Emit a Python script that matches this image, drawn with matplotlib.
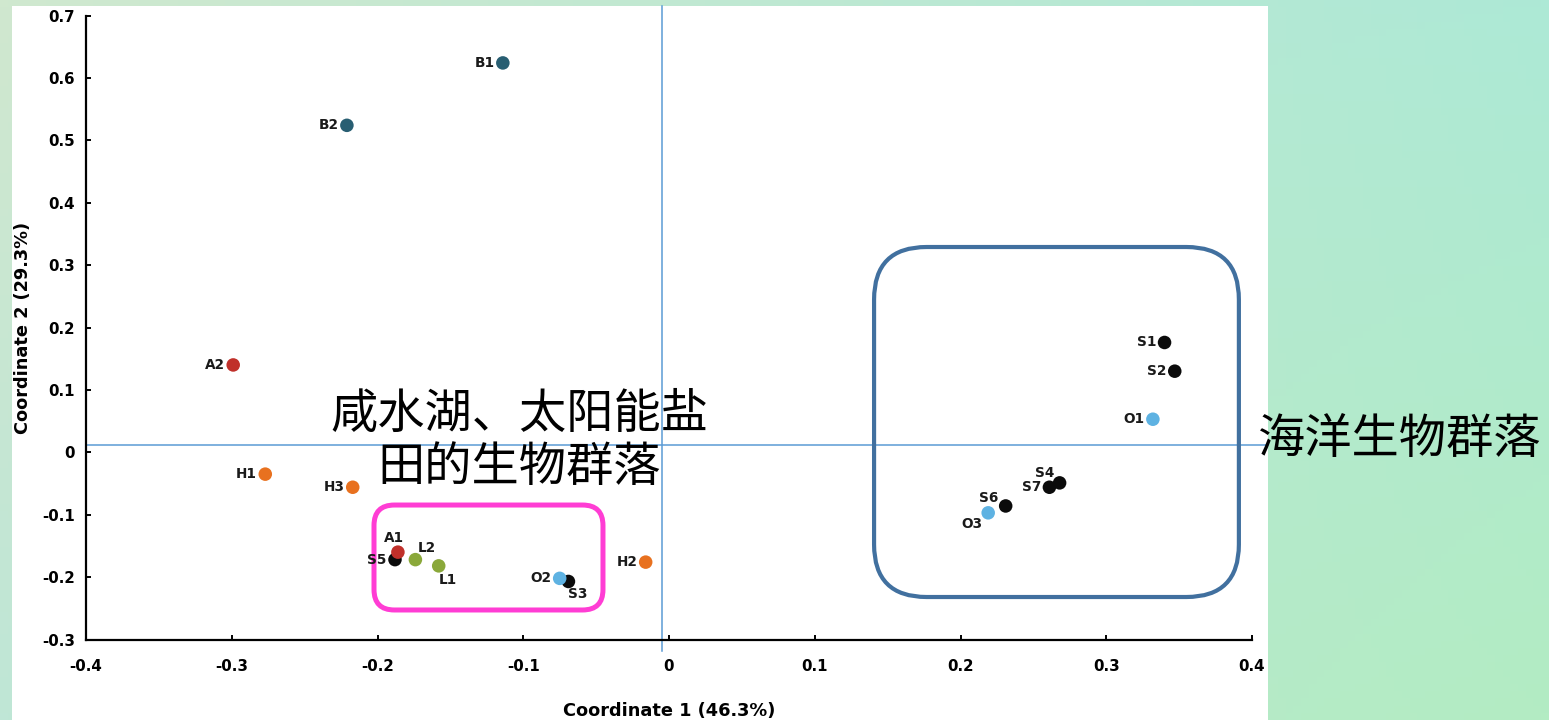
import numpy as np
import matplotlib
matplotlib.use("Agg")
import matplotlib.pyplot as plt
from matplotlib.patches import FancyBboxPatch, Rectangle
from matplotlib.colors import to_rgb

plt.rcParams["font.family"] = ["DejaVu Sans"]

# PCoA sample scores
samples = ["B1", "B2", "A2", "H1", "H3", "H2",
           "A1", "L2", "L1", "O2", "O1", "O3",
           "S5", "S3", "S1", "S2", "S4", "S7", "S6"]
coord1 = [-0.114, -0.221, -0.299, -0.277, -0.217, -0.016,
          -0.186, -0.174, -0.158, -0.075, 0.332, 0.219,
          -0.188, -0.069, 0.340, 0.347, 0.268, 0.261, 0.231]
coord2 = [0.624, 0.524, 0.140, -0.035, -0.056, -0.176,
          -0.160, -0.172, -0.182, -0.202, 0.053, -0.097,
          -0.172, -0.207, 0.176, 0.130, -0.049, -0.056, -0.086]

group_colors = {"B": "#285e72", "A": "#c0302a", "H": "#e8711f",
                "L": "#8aa83a", "O": "#5eb2e2", "S": "#0b0b0b"}

x_label = "Coordinate 1 (46.3%)"
y_label = "Coordinate 2 (29.3%)"
x_ticks = [-0.4, -0.3, -0.2, -0.1, 0, 0.1, 0.2, 0.3, 0.4]
y_ticks = [-0.3, -0.2, -0.1, 0, 0.1, 0.2, 0.3, 0.4, 0.5, 0.6, 0.7]

saline_lines = ["咸水湖、太阳能盐", "田的生物群落"]
marine_text = "海洋生物群落"

# label offsets in points (dx, dy, ha, va)
label_pos = {
    "A1": (-3, 5, "center", "bottom"),
    "L2": (2, 3, "left", "bottom"),
    "L1": (0, -5, "left", "top"),
    "S3": (0, -4, "left", "top"),
    "S4": (-4, 2, "right", "bottom"),
    "S6": (-5, 1, "right", "bottom"),
    "O3": (-4, -3, "right", "top"),
}

fig = plt.figure(figsize=(15.49, 7.2), dpi=100)

# slide background
bg = fig.add_axes([0, 0, 1, 1], zorder=-10)
corners = np.array([[to_rgb("#d0e8cf"), to_rgb("#ade9d6")],
                    [to_rgb("#bfe6d6"), to_rgb("#b3ecc3")]])
u = np.linspace(0, 1, 200)[None, :, None]
v = np.linspace(0, 1, 100)[:, None, None]
grad = ((1 - v) * ((1 - u) * corners[0, 0] + u * corners[0, 1])
        + v * ((1 - u) * corners[1, 0] + u * corners[1, 1]))
bg.imshow(grad, aspect="auto", extent=[0, 1, 0, 1], origin="upper")
bg.add_patch(Rectangle((12 / 1549, 0), (1268 - 12) / 1549, (720 - 6) / 720,
                       facecolor="white", edgecolor="none"))
bg.set_xlim(0, 1)
bg.set_ylim(0, 1)
bg.axis("off")

ax = fig.add_axes([86 / 1549, (720 - 639.5) / 720, 1166 / 1549, 624 / 720])
ax.patch.set_alpha(0)
ax.set_xlim(-0.4, 0.4)
ax.set_ylim(-0.3, 0.7)

# crosshair through the origin
ax.plot([-0.005, -0.005], [-0.318, 0.716], color="#5b9bd5", lw=1.1,
        clip_on=False, zorder=1)
ax.plot([-0.4, 0.411], [0.0117, 0.0117], color="#5b9bd5", lw=1.1,
        clip_on=False, zorder=1)

# S samples underneath the rest
order = sorted(range(len(samples)), key=lambda i: samples[i][0] != "S")
for i in order:
    name = samples[i]
    ax.scatter(coord1[i], coord2[i], s=95, color=group_colors[name[0]],
               edgecolors="none", zorder=3)
for i, name in enumerate(samples):
    dx, dy, ha, va = label_pos.get(name, (-6, 0, "right", "center"))
    ax.annotate(name, (coord1[i], coord2[i]), xytext=(dx, dy),
                textcoords="offset points", ha=ha, va=va,
                fontsize=9.8, fontweight="bold", color="#1a1a1a", zorder=4)

for side in ["top", "right"]:
    ax.spines[side].set_visible(False)
for side in ["left", "bottom"]:
    ax.spines[side].set_linewidth(1.6)
ax.set_xticks(x_ticks)
ax.set_yticks(y_ticks)
ax.set_xticklabels([f"{t:g}" for t in x_ticks])
ax.set_yticklabels([f"{t:g}" for t in y_ticks])
ax.tick_params(direction="in", length=3.5, width=1.4, labelsize=10.8, pad=14)
ax.tick_params(axis="y", pad=8)
for lab in ax.get_xticklabels() + ax.get_yticklabels():
    lab.set_fontweight("bold")
ax.set_xlabel(x_label, fontsize=12.8, fontweight="bold", labelpad=20)
ax.set_ylabel(y_label, fontsize=12.8, fontweight="bold", labelpad=7)

# rounded group boxes, corner radius kept round despite unequal scales
w_px = ax.get_position().width * fig.get_figwidth() * fig.dpi
h_px = ax.get_position().height * fig.get_figheight() * fig.dpi
aspect = (1.0 / h_px) / (0.8 / w_px)
ax.add_patch(FancyBboxPatch((-0.2024, -0.2527), 0.1571, 0.1682,
                            boxstyle="round,pad=0,rounding_size=0.014",
                            mutation_aspect=aspect, facecolor="none",
                            edgecolor="#ff3dd4", lw=3.6, zorder=2,
                            clip_on=False))
ax.add_patch(FancyBboxPatch((0.1407, -0.2319), 0.2503, 0.5609,
                            boxstyle="round,pad=0,rounding_size=0.036",
                            mutation_aspect=aspect, facecolor="none",
                            edgecolor="#41709f", lw=3.0, zorder=2,
                            clip_on=False))

cjk = ["Noto Sans CJK SC", "DejaVu Sans"]
for line, y_px in zip(saline_lines, [415, 468]):
    fig.text(519 / 1549, 1 - y_px / 720, line, ha="center", va="center",
             fontsize=34, family=cjk, color="black")
fig.text(1400 / 1549, 1 - 440 / 720, marine_text, ha="center", va="center",
         fontsize=34, family=cjk, color="black")

fig.savefig("out.png", dpi=100)
